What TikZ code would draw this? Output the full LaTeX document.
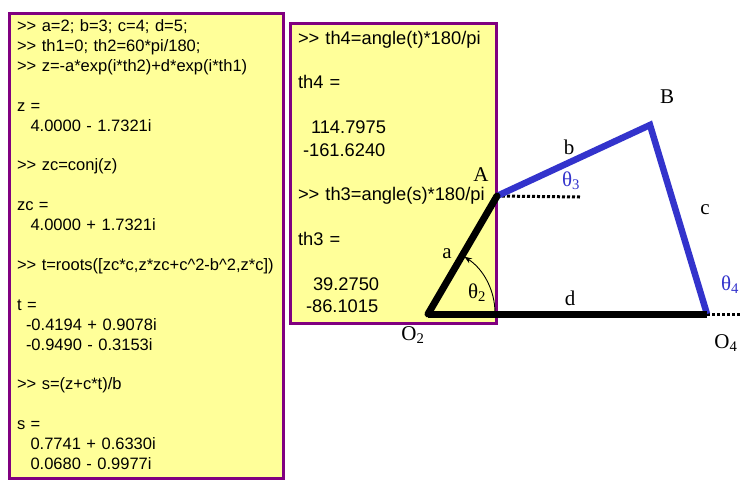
\documentclass[tikz,border=0pt]{standalone}
\usepackage{fontspec}
\usetikzlibrary{arrows.meta,positioning}
\newfontfamily\matfont{Liberation Sans}
\newfontfamily\labfont{Liberation Serif}
\definecolor{cY}{HTML}{FFFF99}
\definecolor{cP}{HTML}{800080}
\definecolor{cB}{HTML}{3333CC}
\newcommand{\ind}[1]{\hspace*{#1pt}}
\tikzset{
  mbox/.style={draw=cP,line width=3pt,fill=cY,anchor=north west,align=left,
               inner xsep=7.5pt,inner ysep=0pt},
  lab/.style={inner sep=0pt,font=\labfont\fontsize{21}{23}\selectfont},
  blab/.style={lab,text=cB},
  blackbar/.style={line width=7pt,black},
  bluebar/.style={line width=6.5pt,cB},
  dots/.style={line width=3pt,black,dash pattern=on 3pt off 2pt},
  anglearrow/.style={-{Stealth[length=2.6mm,width=2mm]},line width=.9pt},
}
\begin{document}
\begin{tikzpicture}[x=1pt,y=-1pt]
  \useasboundingbox (0,0) rectangle (745,493);
  \fill[white] (0,0) rectangle (745,493);
  % listings
  \node[mbox,text width=259pt,minimum height=465pt,font=\matfont\fontsize{16.5}{19.9}\selectfont] (left) at (8,12){%
    >> a=2; b=3; c=4; d=5;\\
    >> th1=0; th2=60*pi/180;\\
    >> z=-a*exp(i*th2)+d*exp(i*th1)\\
    \mbox{}\\
    z =\\
    \ind{13.5}4.0000 - 1.7321i\\
    \mbox{}\\
    >> zc=conj(z)\\
    \mbox{}\\
    zc =\\
    \ind{13.5}4.0000 + 1.7321i\\
    \mbox{}\\
    >> t=roots([zc*c,z*zc+c\textasciicircum2-b\textasciicircum2,z*c])\\
    \mbox{}\\
    t =\\
    \ind{9}-0.4194 + 0.9078i\\
    \ind{9}-0.9490 - 0.3153i\\
    \mbox{}\\
    >> s=(z+c*t)/b\\
    \mbox{}\\
    s =\\
    \ind{13.5}0.7741 + 0.6330i\\
    \ind{13.5}0.0680 - 0.9977i\\[-17pt]
    \mbox{}};
  \node[mbox,text width=191pt,minimum height=300pt,font=\matfont\fontsize{18.3}{22.4}\selectfont] (right) at (289,22){%
    >> th4=angle(t)*180/pi\\
    \mbox{}\\
    th4 =\\
    \mbox{}\\
    \ind{13}114.7975\\
    \ind{5}-161.6240\\
    \mbox{}\\
    >> th3=angle(s)*180/pi\\
    \mbox{}\\
    th3 =\\
    \mbox{}\\
    \ind{15}39.2750\\
    \ind{8}-86.1015\\[-19pt]
    \mbox{}};
  % linkage
  \coordinate (O2) at (428,314);
  \coordinate (A) at (497,196);
  \coordinate (B) at (650,125);
  \coordinate (O4) at (707,314);
  \coordinate (Aend) at (580,197);
  \coordinate (O4end) at (741,314);
  \coordinate (arcstart) at (495,313);
  \draw[dots] (A)--(Aend);
  \draw[dots] (O4)--(O4end);
  \draw[bluebar,line join=miter] (A)--(B)--(O4);
  \draw[blackbar,line cap=round] (A)--(O2);
  \draw[blackbar] (O2)--(O4);
  \draw[anglearrow] (arcstart) arc[start angle=0,end angle=-57,radius=67];
  % labels
  \node[lab] (labA) at (481,175){A};
  \node[lab] (labB) at (667,97){B};
  \node[lab] (laba) at (447,254){a};
  \node[lab] (labb) at (569,147){b};
  \node[lab] (labc) at (705,210){c};
  \node[lab] (labd) at (570,298){d};
  \node[lab] (labO2) at (413,335){O\textsubscript{2}};
  \node[lab] (labO4) at (726,343){O\textsubscript{4}};
  \node[lab] (labt2) at (477,293){θ\textsubscript{2}};
  \node[blab] (labt3) at (571,181){θ\textsubscript{3}};
  \node[blab] (labt4) at (730,285){θ\textsubscript{4}};
\end{tikzpicture}
\end{document}
